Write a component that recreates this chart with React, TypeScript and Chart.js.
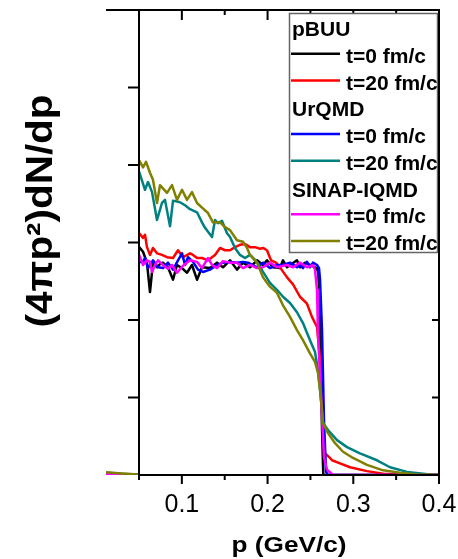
import React, { useEffect, useRef } from 'react';
import { Chart, registerables } from 'chart.js';

Chart.register(...registerables);

// ---- axes ----
const X_MIN = 0.0115;
const X_MAX = 0.4;
const Y_MIN = 0;
const Y_MAX = 6;
const xTickValues = [0.05, 0.1, 0.15, 0.2, 0.25, 0.3, 0.35, 0.4];
const xTickLabels = ['', '0.1', '', '0.2', '', '0.3', '', '0.4'];
const yTickValues = [1, 2, 3, 4, 5];
const xTitle = 'p (GeV/c)';
const yTitle = '(4πp²)dN/dp';

// ---- legend ----
const modelNames = ['pBUU', 'UrQMD', 'SINAP-IQMD'];
const timeLabels = ['t=0 fm/c', 't=20 fm/c'];

// ---- data (null = gap where the curve is hidden by the axis at p = 0.05) ----
// pBUU
const pbuuT0P = [0.0115, 0.03, 0.0495, 0.0499, 0.0502, 0.0547, 0.0593, 0.0628, 0.0663, 0.071, 0.0745, 0.078, 0.0838, 0.0897, 0.0943, 0.1002, 0.106, 0.1118, 0.1177, 0.1235, 0.1328, 0.141, 0.148, 0.1562, 0.1643, 0.1713, 0.1795, 0.1877, 0.1947, 0.1993, 0.2063, 0.2145, 0.218, 0.2227, 0.2343, 0.2378, 0.2436, 0.2495, 0.2553, 0.2577, 0.2588, 0.26, 0.2612, 0.2635, 0.265, 0.27, 0.3, 0.35, 0.4];
const pbuuT0Y = [0.01, 0.006, 0.002, null, 2.94, 2.88, 2.74, 2.36, 2.74, 2.68, 2.72, 2.74, 2.68, 2.52, 2.71, 2.67, 2.61, 2.71, 2.52, 2.68, 2.67, 2.74, 2.68, 2.77, 2.65, 2.74, 2.68, 2.77, 2.71, 2.77, 2.68, 2.67, 2.77, 2.68, 2.77, 2.68, 2.74, 2.71, 2.68, 2.66, 2.62, 2.45, 1.9, 0.6, 0, 0, 0, 0, 0];
const pbuuT20P = [0.0115, 0.03, 0.0495, 0.0499, 0.0502, 0.0547, 0.057, 0.0593, 0.0628, 0.0663, 0.071, 0.0768, 0.0827, 0.0897, 0.0955, 0.1013, 0.1095, 0.113, 0.1177, 0.1235, 0.1305, 0.1387, 0.1445, 0.1503, 0.1562, 0.162, 0.1678, 0.1737, 0.1795, 0.1853, 0.1912, 0.1947, 0.1993, 0.204, 0.2098, 0.2157, 0.2227, 0.2297, 0.2378, 0.246, 0.2518, 0.2577, 0.2588, 0.2612, 0.2635, 0.2658, 0.267, 0.2728, 0.2752, 0.2845, 0.2962, 0.316, 0.3347, 0.3545, 0.4];
const pbuuT20Y = [0.02, 0.01, 0.003, null, 3.12, 3.06, 3.1, 2.94, 2.84, 2.93, 2.86, 2.84, 2.81, 2.8, 2.9, 2.81, 2.86, 2.84, 2.8, 2.8, 2.77, 2.84, 2.93, 2.9, 2.9, 2.94, 2.97, 2.98, 2.94, 2.94, 2.92, 2.93, 2.9, 2.77, 2.74, 2.66, 2.55, 2.46, 2.3, 2.21, 2.04, 1.91, 1.78, 1.48, 0.97, 0.45, 0.28, 0.22, 0.19, 0.15, 0.1, 0.05, 0.015, 0.005, 0];

// UrQMD
const urqmdT0P = [0.0115, 0.03, 0.0495, 0.0499, 0.0502, 0.0547, 0.057, 0.0605, 0.0663, 0.0722, 0.078, 0.0838, 0.0897, 0.0955, 0.1002, 0.1037, 0.1072, 0.113, 0.1188, 0.1247, 0.1328, 0.141, 0.148, 0.1562, 0.1643, 0.1713, 0.1772, 0.1877, 0.1947, 0.2028, 0.211, 0.218, 0.2262, 0.2343, 0.2378, 0.2413, 0.246, 0.2495, 0.253, 0.2577, 0.26, 0.2612, 0.2635, 0.2658, 0.2682, 0.2705, 0.3, 0.35, 0.4];
const urqmdT0Y = [0.01, 0.005, 0.002, null, 2.75, 2.75, 2.8, 2.67, 2.77, 2.68, 2.67, 2.74, 2.65, 2.77, 2.86, 2.71, 2.81, 2.75, 2.65, 2.62, 2.65, 2.71, 2.74, 2.75, 2.74, 2.75, 2.74, 2.68, 2.74, 2.67, 2.71, 2.71, 2.74, 2.68, 2.71, 2.67, 2.75, 2.68, 2.74, 2.71, 2.67, 2.52, 1.87, 0.71, 0.04, 0, 0, 0, 0];
const urqmdT20P = [0.0115, 0.03, 0.0495, 0.0499, 0.0502, 0.057, 0.0605, 0.0652, 0.071, 0.0768, 0.0803, 0.0862, 0.0897, 0.0978, 0.1037, 0.1095, 0.1177, 0.1235, 0.127, 0.1352, 0.1387, 0.1422, 0.1468, 0.1527, 0.1562, 0.162, 0.1678, 0.1737, 0.1795, 0.1877, 0.1947, 0.2028, 0.211, 0.218, 0.2262, 0.2343, 0.2413, 0.2495, 0.2553, 0.2588, 0.2612, 0.2647, 0.2705, 0.281, 0.2927, 0.3078, 0.3277, 0.3428, 0.3627, 0.3895, 0.4];
const urqmdT20Y = [0.03, 0.015, 0.004, null, 3.91, 3.68, 3.78, 3.65, 3.29, 3.51, 3.55, 3.21, 3.54, 3.52, 3.48, 3.43, 3.39, 3.26, 3.19, 3.07, 3.29, 3.25, 3.28, 3.12, 3.07, 2.93, 2.84, 2.8, 2.84, 2.75, 2.62, 2.48, 2.39, 2.3, 2.22, 2.1, 1.96, 1.74, 1.59, 1.35, 1.1, 0.67, 0.58, 0.45, 0.36, 0.28, 0.19, 0.1, 0.04, 0.005, 0];

// SINAP-IQMD
const iqmdT0P = [0.0115, 0.03, 0.0495, 0.0499, 0.0502, 0.0547, 0.0593, 0.0628, 0.0652, 0.0687, 0.0722, 0.078, 0.0838, 0.0885, 0.0943, 0.1013, 0.1095, 0.1177, 0.1235, 0.1305, 0.1352, 0.141, 0.148, 0.1562, 0.1643, 0.1713, 0.1795, 0.1877, 0.1947, 0.2028, 0.211, 0.2227, 0.2297, 0.2378, 0.246, 0.253, 0.2553, 0.2577, 0.2588, 0.2635, 0.2658, 0.2693, 0.2763, 0.3, 0.35, 0.4];
const iqmdT0Y = [0.015, 0.006, 0.002, null, 2.84, 2.71, 2.77, 2.75, 2.62, 2.71, 2.77, 2.71, 2.66, 2.71, 2.61, 2.7, 2.77, 2.75, 2.67, 2.8, 2.71, 2.67, 2.76, 2.74, 2.74, 2.67, 2.71, 2.67, 2.68, 2.74, 2.68, 2.71, 2.68, 2.74, 2.68, 2.71, 2.65, 2.39, 1.83, 0.75, 0.23, 0.07, 0, 0, 0, 0];
const iqmdT20P = [0.0115, 0.03, 0.0495, 0.0499, 0.0502, 0.0547, 0.0582, 0.0628, 0.0663, 0.071, 0.0745, 0.0827, 0.0885, 0.0943, 0.1002, 0.106, 0.1118, 0.1177, 0.1235, 0.1305, 0.1363, 0.1445, 0.1503, 0.1562, 0.1643, 0.1713, 0.176, 0.1795, 0.1877, 0.1947, 0.2028, 0.211, 0.218, 0.2262, 0.2343, 0.2413, 0.2495, 0.2553, 0.2588, 0.2612, 0.2635, 0.2647, 0.2705, 0.2787, 0.288, 0.2997, 0.316, 0.3347, 0.3545, 0.3744, 0.4];
const iqmdT20Y = [0.035, 0.02, 0.005, null, 4.06, 3.97, 4.04, 3.9, 3.81, 3.51, 3.74, 3.64, 3.74, 3.55, 3.68, 3.55, 3.65, 3.51, 3.45, 3.38, 3.26, 3.26, 3.2, 3.16, 3.03, 3.01, 2.93, 2.84, 2.74, 2.55, 2.43, 2.35, 2.19, 2.04, 1.87, 1.74, 1.57, 1.46, 1.32, 1.1, 0.84, 0.67, 0.54, 0.41, 0.3, 0.22, 0.13, 0.06, 0.03, 0.005, 0];

const seriesColors = ['#000000', '#ff0000', '#0000ff', '#008080', '#ff00ff', '#808000'];
const seriesP = [pbuuT0P, pbuuT20P, urqmdT0P, urqmdT20P, iqmdT0P, iqmdT20P];
const seriesY = [pbuuT0Y, pbuuT20Y, urqmdT0Y, urqmdT20Y, iqmdT0Y, iqmdT20Y];
const drawOrder = [5, 4, 3, 2, 1, 0];

const FONT = '"Liberation Sans", Arial, Helvetica, sans-serif';

const decorPlugin = {
  id: 'decor',
  afterDraw(chart: any) {
    const { ctx, chartArea: a, scales } = chart;
    const x = scales.x;
    const y = scales.y;
    const x0 = x.getPixelForValue(0.05);
    const xr = x.getPixelForValue(X_MAX);
    const yb = y.getPixelForValue(Y_MIN);
    const yt = y.getPixelForValue(Y_MAX);
    ctx.save();
    ctx.strokeStyle = '#000';
    ctx.lineWidth = 2;
    ctx.lineCap = 'butt';
    ctx.beginPath();
    ctx.moveTo(a.left, yt);
    ctx.lineTo(xr + 1, yt);
    ctx.moveTo(xr, yt);
    ctx.lineTo(xr, yb);
    ctx.moveTo(x0 - 1, yb);
    ctx.lineTo(xr + 1, yb);
    ctx.moveTo(x0, yt - 1);
    ctx.lineTo(x0, yb + 5);
    xTickValues.forEach((v, i) => {
      const px = x.getPixelForValue(v);
      const major = xTickLabels[i] !== '';
      ctx.moveTo(px, yb);
      ctx.lineTo(px, yb + (major ? 9 : 5));
      ctx.moveTo(px, yt);
      ctx.lineTo(px, yt + (major ? 10 : 5));
    });
    yTickValues.forEach((v) => {
      const py = y.getPixelForValue(v);
      ctx.moveTo(x0, py);
      ctx.lineTo(x0 - 11, py);
      ctx.moveTo(xr, py);
      ctx.lineTo(xr - 7, py);
    });
    ctx.stroke();

    // legend
    const lx = 289, ly = 13, lw = 149, lh = 240;
    ctx.fillStyle = '#ffffff';
    ctx.fillRect(lx, ly, lw, lh);
    ctx.strokeStyle = '#666666';
    ctx.lineWidth = 1.5;
    ctx.strokeRect(lx + 0.5, ly + 0.5, lw - 1, lh - 1);
    ctx.font = 'bold 21px ' + FONT;
    ctx.textAlign = 'left';
    ctx.textBaseline = 'alphabetic';
    ctx.fillStyle = '#000';
    let row = 0;
    const rowY = (k: number) => 28.5 + 26.75 * k;
    modelNames.forEach((name, m) => {
      ctx.fillStyle = '#000';
      ctx.fillText(name, lx + 3, rowY(row) + 7.5);
      row++;
      timeLabels.forEach((lab, t) => {
        const cy = rowY(row);
        ctx.strokeStyle = seriesColors[m * 2 + t];
        ctx.lineWidth = 2.5;
        ctx.beginPath();
        ctx.moveTo(lx + 2, cy - 1.5);
        ctx.lineTo(lx + 51, cy - 1.5);
        ctx.stroke();
        ctx.fillStyle = '#000';
        ctx.fillText(lab, lx + 57, cy + 7.5);
        row++;
      });
    });
    ctx.strokeStyle = '#000';
    ctx.lineWidth = 2;
    ctx.beginPath();
    ctx.moveTo(xr, yt);
    ctx.lineTo(xr, yb);
    ctx.stroke();

    // axis titles
    ctx.fillStyle = '#000';
    ctx.textAlign = 'center';
    ctx.font = 'bold 22px ' + FONT;
    ctx.textBaseline = 'alphabetic';
    const wx = ctx.measureText(xTitle).width;
    ctx.save();
    ctx.translate((x0 + xr) / 2, 552);
    ctx.scale(115 / wx, 1);
    ctx.fillText(xTitle, 0, 0);
    ctx.restore();

    ctx.font = 'bold 36px ' + FONT;
    ctx.textBaseline = 'middle';
    const wy = ctx.measureText(yTitle).width;
    ctx.save();
    ctx.translate(42, 211);
    ctx.rotate(-Math.PI / 2);
    ctx.scale(233 / wy, 1);
    ctx.fillText(yTitle, 0, 0);
    ctx.restore();
    ctx.restore();
  },
};

export default function App() {
  const canvasRef = useRef<HTMLCanvasElement | null>(null);
  useEffect(() => {
    const canvas = canvasRef.current;
    if (!canvas) return;
    const datasets = seriesP.map((ps, s) => ({
      label: modelNames[Math.floor(s / 2)] + ' ' + timeLabels[s % 2],
      data: ps.map((p, i) => ({ x: p, y: seriesY[s][i] })),
      borderColor: seriesColors[s],
      backgroundColor: seriesColors[s],
      borderWidth: 2.5,
      pointRadius: 0,
      tension: 0,
      fill: false,
      spanGaps: false,
      borderJoinStyle: 'round' as const,
      order: drawOrder[s],
    }));
    const chart = new Chart(canvas, {
      type: 'line',
      data: { datasets },
      options: {
        animation: false,
        responsive: false,
        devicePixelRatio: 1,
        layout: { padding: { left: 106, right: 19, top: 10, bottom: 44 } },
        plugins: { legend: { display: false }, tooltip: { enabled: false } },
        scales: {
          x: {
            type: 'linear',
            min: X_MIN,
            max: X_MAX,
            grid: { display: false, drawTicks: false },
            border: { display: false },
            afterBuildTicks: (s: any) => {
              s.ticks = xTickValues.map((v) => ({ value: v }));
            },
            afterFit: (s: any) => {
              s.height = 40;
              s.paddingLeft = 0;
              s.paddingRight = 0;
            },
            ticks: {
              autoSkip: false,
              maxRotation: 0,
              minRotation: 0,
              padding: 15,
              color: '#000',
              font: { family: FONT, size: 25 },
              callback: (value: any) => {
                const i = xTickValues.findIndex((v) => Math.abs(v - Number(value)) < 1e-6);
                return i >= 0 ? xTickLabels[i] : '';
              },
            },
          },
          y: { type: 'linear', min: Y_MIN, max: Y_MAX, display: false },
        },
      },
      plugins: [decorPlugin],
    });
    return () => chart.destroy();
  }, []);
  return (
    <div style={{ position: 'absolute', left: 0, top: 0, width: 458, height: 559, background: '#fff' }}>
      <canvas ref={canvasRef} width={458} height={559} style={{ display: 'block' }} />
    </div>
  );
}
